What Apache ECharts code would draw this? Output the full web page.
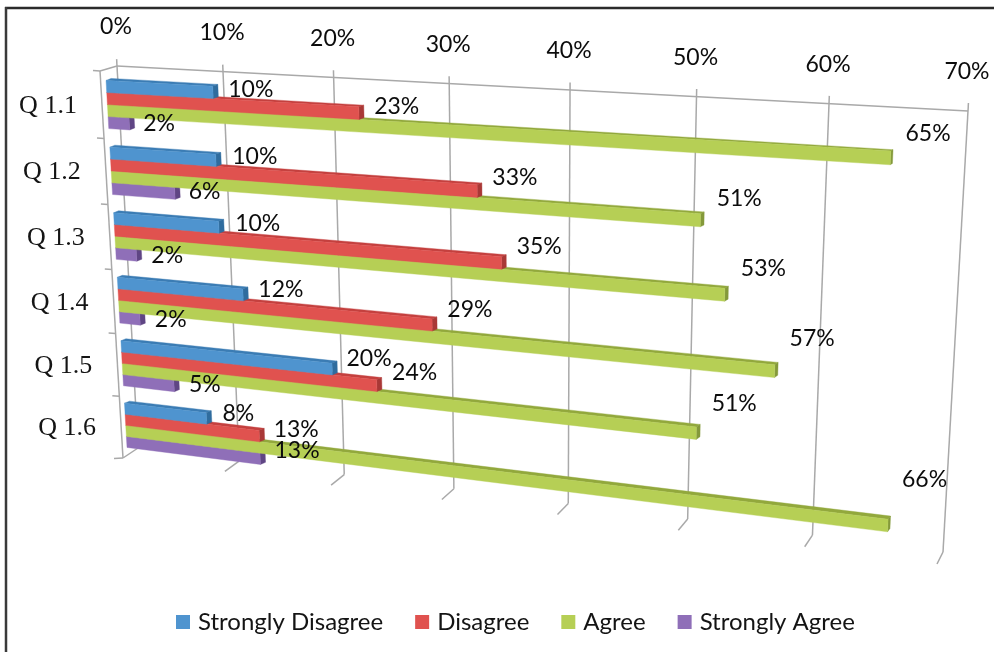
<!DOCTYPE html>
<html><head><meta charset="utf-8">
<style>html,body{margin:0;padding:0;background:#fff}#c{width:994px;height:652px}</style>
<script src="https://cdn.jsdelivr.net/npm/echarts@6/dist/echarts.min.js"></script>
</head><body><div id="c"></div>
<script>
const categories = ['Q 1.1','Q 1.2','Q 1.3','Q 1.4','Q 1.5','Q 1.6'];
const valueTicks = [0,10,20,30,40,50,60,70];
const stronglyDisagree = [10,10,10,12,20,8];
const disagree = [23,33,35,29,24,13];
const agree = [65,51,53,57,51,66];
const stronglyAgree = [2,6,2,2,5,13];

const seriesDefs = [
  {name:'Strongly Disagree', values:stronglyDisagree, front:'#4f94cf', top:'#3b7cb4', side:'#2f6c9e'},
  {name:'Disagree', values:disagree, front:'#e0524f', top:'#c4403e', side:'#a93836'},
  {name:'Agree', values:agree, front:'#b6cf55', top:'#92a83c', side:'#84993a'},
  {name:'Strongly Agree', values:stronglyAgree, front:'#8f6fb8', top:'#7558a0', side:'#5f4584'}
];

// Layout: hidden axes occupy GRID; their pixel output is warped onto the chart's perspective planes.
const GRID = {left:100, top:60, width:800, height:480};
function homography(q){
  const [p0,p1,p2,p3]=q;
  const dx1=p1[0]-p2[0],dx2=p3[0]-p2[0],sx=p0[0]-p1[0]+p2[0]-p3[0];
  const dy1=p1[1]-p2[1],dy2=p3[1]-p2[1],sy=p0[1]-p1[1]+p2[1]-p3[1];
  const den=dx1*dy2-dx2*dy1;
  const g=(sx*dy2-dx2*sy)/den,h=(dx1*sy-sx*dy1)/den;
  const a=p1[0]-p0[0]+g*p1[0],b=p3[0]-p0[0]+h*p3[0],c=p0[0];
  const d=p1[1]-p0[1]+g*p1[1],e=p3[1]-p0[1]+h*p3[1],f=p0[1];
  return (u,v)=>{const w=g*u+h*v+1;return [(a*u+b*v+c)/w,(d*u+e*v+f)/w];};
}
const wallBack  = homography([[117,66],[968,111],[943,552],[138,448]]);
const wallFront = homography([[100,71],[962,116],[937,564],[123,458]]);
const barFront  = homography([[105.5,71],[963.5,116],[940,561],[127.5,456]]);
const barBack   = homography([[110.5,69],[965,115],[942,557.5],[132.5,454]]);
const BAR_SHARE = 0.18, GROUP_SHARE = 0.72;
const labelNudge = [
  [[33,-3],[34,-4],[34,-4],[33,-5],[32,-11],[27,-5]],
  [[33,-7],[33,-14],[33,-16],[33,-15],[33,-13],[32,-7]],
  [[35,-24],[35,-22],[35,-26],[34,-33],[34,-30],[34,-46]],
  [[25,0],[25,-2],[26,0],[26,0],[26,-1],[32,-8]]
];
const toU = x => (x-GRID.left)/GRID.width;
const toV = y => (y-GRID.top)/GRID.height;
const LINE = {stroke:'#a9a9a9', lineWidth:1.5, fill:null};
const seg = (a,b,style) => ({type:'line',shape:{x1:a[0],y1:a[1],x2:b[0],y2:b[1]},style:style||LINE,silent:true});
const poly = (pts,fill) => ({type:'polygon',shape:{points:pts},style:{fill:fill,stroke:fill,lineWidth:0.4},silent:true});

function barGeom(api,idx){
  const c=api.coord([api.value(0),api.value(1)]);
  const z=api.coord([0,api.value(1)]);
  const band=api.size([0,1])[1];
  const y0=c[1]-band*GROUP_SHARE/2+idx*band*BAR_SHARE, y1=y0+band*BAR_SHARE;
  return {u0:toU(z[0]),u1:toU(c[0]),v0:toV(y0),v1:toV(y1)};
}
function barItem(def,idx){
  return (params,api)=>{
    const g=barGeom(api,idx);
    const F=barFront,B=barBack;
    return {type:'group',children:[
      poly([F(g.u0,g.v0),F(g.u1,g.v0),B(g.u1,g.v0),B(g.u0,g.v0)],def.top),
      poly([F(g.u1,g.v0),B(g.u1,g.v0),B(g.u1,g.v1),F(g.u1,g.v1)],def.side),
      poly([F(g.u0,g.v0),F(g.u1,g.v0),F(g.u1,g.v1),F(g.u0,g.v1)],def.front)
    ]};
  };
}
const barSeries = seriesDefs.map((def,idx)=>({
  name:def.name,type:'custom',coordinateSystem:'cartesian2d',z:3+seriesDefs.length-idx,
  itemStyle:{color:def.front},
  encode:{x:0,y:1},
  data:def.values.map((v,i)=>[v,i]),
  renderItem:barItem(def,idx)
}));

const labelData=[];
seriesDefs.forEach((def,s)=>def.values.forEach((v,i)=>labelData.push([v,i,s])));
const labelSeries={
  name:'labels',type:'custom',coordinateSystem:'cartesian2d',z:12,silent:true,
  encode:{x:0,y:1},data:labelData,
  renderItem:(params,api)=>{
    const s=api.value(2),cat=api.value(1);
    const g=barGeom(api,s);
    const p=barFront(g.u1,(g.v0+g.v1)/2), q=barBack(g.u1,g.v0);
    const n=labelNudge[s][cat];
    return {type:'text',silent:true,style:{text:api.value(0)+'%',x:q[0]+n[0],y:p[1]+n[1],
      align:'center',verticalAlign:'middle',fill:'#0c0c0c',font:'23px Lato'}};
  }
};
const gridSeries={
  name:'gridlines',type:'custom',coordinateSystem:'cartesian2d',z:1,silent:true,
  encode:{x:0},data:valueTicks.map(t=>[t,0]),
  renderItem:(params,api)=>{
    const u=toU(api.coord([api.value(0),0])[0]);
    const top=wallBack(u,0), up=wallBack(u,-0.017), bot=wallBack(u,1), fr=wallFront(u,1);
    return {type:'group',children:[
      seg(up,bot),seg(bot,fr),
      {type:'text',silent:true,style:{text:api.value(0)+'%',x:top[0]-1,y:top[1]-39,align:'center',verticalAlign:'middle',fill:'#0c0c0c',font:'23px Lato'}}
    ]};
  }
};
const frameSeries={
  name:'walls',type:'custom',coordinateSystem:'cartesian2d',z:1,silent:true,
  encode:{x:0},data:[[0,0]],
  renderItem:()=>({type:'group',children:[
    seg(wallBack(0,0),wallBack(1,0)),
    seg(wallFront(0,0),wallBack(0,0)),
    seg(wallFront(0,0),wallFront(0,1))
  ]})
};
const catSeries={
  name:'categories',type:'custom',coordinateSystem:'cartesian2d',z:1,silent:true,
  encode:{y:1},data:categories.map((c,i)=>[0,i]),
  renderItem:(params,api)=>{
    const i=api.value(1);
    const c=api.coord([0,i]),band=api.size([0,1])[1];
    const v=toV(c[1]);
    const dv=band/GRID.height/2;
    const mid=wallFront(0,v), t=wallFront(0,v-dv), b=wallFront(0,v+dv);
    const kids=[seg(t,[t[0]-7,t[1]-0.5]),
      {type:'text',silent:true,style:{text:categories[i],x:mid[0]-54,y:mid[1]+1,align:'center',verticalAlign:'middle',fill:'#141414',font:'26px "Liberation Serif"'}}];
    if(i===categories.length-1) kids.push(seg(b,[b[0]-9,b[1]+0.5]));
    return {type:'group',children:kids};
  }
};

const chart=echarts.init(document.getElementById('c'));
chart.setOption({
  animation:false,backgroundColor:'#fff',
  grid:Object.assign({},GRID,{containLabel:false}),
  xAxis:{type:'value',min:0,max:70,interval:10,show:false},
  yAxis:{type:'category',data:categories,inverse:true,show:false},
  legend:{data:seriesDefs.map(d=>d.name),left:176,top:610,padding:0,itemWidth:14,itemHeight:14,itemGap:32,icon:'rect',
    textStyle:{fontFamily:'Lato',fontSize:24,color:'#141414',padding:[0,0,0,3]},selectedMode:false},
  graphic:[
    {type:'line',shape:{x1:5,y1:8,x2:994,y2:8},style:{stroke:'#2b2b2b',lineWidth:2.5}},
    {type:'line',shape:{x1:6,y1:7,x2:6,y2:652},style:{stroke:'#3a3a3a',lineWidth:2.5}}
  ],
  series:[gridSeries,frameSeries,catSeries].concat(barSeries,[labelSeries])
});
</script></body></html>
